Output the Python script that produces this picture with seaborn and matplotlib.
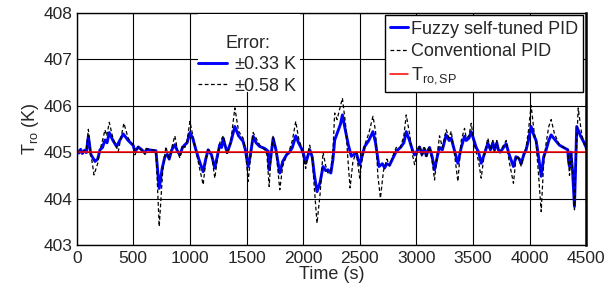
import numpy as np
import pandas as pd
import matplotlib
matplotlib.use("Agg")
import matplotlib.pyplot as plt
from matplotlib.patches import Rectangle
import seaborn as sns

# ---------- data ----------
fuzzy_time = [0, 20, 35, 50, 70, 85, 103, 125, 162, 185, 206, 228, 250, 268, 288, 320, 353, 380, 412, 455,
              500, 514, 530, 544, 575, 603, 617, 660, 700, 729, 755, 779, 800, 817, 840, 867, 890, 911, 935,
              956, 975, 1000, 1025, 1053, 1085, 1117, 1140, 1161, 1191, 1220, 1245, 1264, 1280, 1294, 1310,
              1329, 1360, 1397, 1430, 1470, 1490, 1514, 1535, 1559, 1585, 1617, 1660, 1691, 1700, 1715, 1735,
              1760, 1794, 1820, 1853, 1880, 1905, 1935, 1960, 1985, 2005, 2023, 2040, 2058, 2080, 2100, 2123,
              2150, 2176, 2200, 2220, 2245, 2264, 2279, 2308, 2330, 2347, 2375, 2400, 2411, 2426, 2450, 2470,
              2500, 2525, 2544, 2580, 2617, 2640, 2670, 2700, 2720, 2740, 2764, 2790, 2823, 2860, 2890, 2911,
              2940, 2965, 2985, 3000, 3029, 3050, 3070, 3088, 3105, 3117, 3140, 3161, 3185, 3205, 3230, 3264,
              3290, 3308, 3335, 3367, 3397, 3426, 3441, 3465, 3485, 3510, 3529, 3550, 3573, 3600, 3632, 3655,
              3676, 3690, 3711, 3725, 3741, 3770, 3794, 3820, 3858, 3880, 3897, 3910, 3926, 3950, 3970, 3990,
              4014, 4040, 4058, 4080, 4103, 4125, 4147, 4170, 4191, 4230, 4264, 4300, 4338, 4345, 4353, 4365,
              4380, 4397, 4408, 4417, 4450, 4485, 4500]
fuzzy_temp = [405.05, 404.98, 405.06, 404.97, 405.04, 404.99, 405.34, 404.95, 404.80, 404.85, 405.05, 405.10,
              405.26, 405.20, 405.42, 405.25, 405.12, 405.25, 405.39, 405.25, 405.14, 405.01, 405.06, 405.11,
              405.05, 404.98, 405.06, 405.04, 405.03, 404.22, 404.65, 404.90, 404.95, 404.85, 405.05, 405.16,
              405.02, 404.94, 405.10, 405.16, 405.20, 405.42, 405.30, 405.05, 404.80, 404.58, 404.85, 405.05,
              404.94, 404.66, 404.95, 405.16, 405.10, 405.30, 405.15, 404.99, 405.20, 405.55, 405.35, 405.23,
              405.05, 404.69, 404.95, 405.34, 405.20, 405.12, 405.08, 405.02, 404.62, 404.90, 405.30, 405.05,
              404.55, 404.80, 404.94, 405.00, 405.10, 405.35, 405.20, 405.08, 404.95, 404.76, 404.90, 405.05,
              404.90, 404.50, 404.15, 404.35, 404.69, 404.60, 404.62, 404.55, 404.85, 405.26, 405.45, 405.60,
              405.80, 405.45, 405.15, 405.05, 404.91, 404.95, 404.98, 404.73, 404.95, 405.12, 405.25, 405.44,
              405.20, 404.69, 404.75, 404.66, 404.75, 404.72, 404.85, 405.02, 405.10, 405.20, 405.44, 405.25,
              405.05, 404.94, 405.00, 405.11, 404.95, 405.08, 404.92, 405.05, 405.10, 404.90, 404.62, 404.90,
              405.10, 405.05, 405.37, 405.25, 405.30, 405.05, 404.76, 405.10, 405.34, 405.25, 405.30, 405.44,
              405.25, 405.10, 405.00, 404.76, 404.95, 405.19, 405.05, 405.20, 405.05, 405.20, 405.05, 405.00,
              405.10, 405.18, 404.95, 404.69, 404.90, 404.88, 404.85, 404.75, 404.95, 405.05, 405.25, 405.55,
              405.35, 405.25, 404.90, 404.48, 404.90, 405.05, 405.25, 405.37, 405.25, 405.15, 405.10, 405.05,
              404.80, 404.69, 405.00, 404.60, 403.83, 404.80, 405.55, 405.35, 405.19, 405.10]

conv_time = [0, 30, 60, 85, 103, 120, 153, 185, 206, 228, 250, 265, 288, 320, 367, 390, 417, 455, 500, 514,
             544, 603, 617, 700, 729, 760, 788, 817, 840, 867, 890, 911, 935, 956, 975, 1000, 1030, 1060, 1090,
             1117, 1140, 1161, 1191, 1220, 1245, 1264, 1294, 1310, 1329, 1360, 1397, 1430, 1470, 1490, 1514,
             1535, 1559, 1585, 1617, 1660, 1680, 1700, 1715, 1735, 1760, 1794, 1820, 1853, 1880, 1905, 1935,
             1960, 1985, 2005, 2023, 2040, 2058, 2080, 2100, 2123, 2150, 2176, 2200, 2220, 2245, 2264, 2279,
             2300, 2320, 2347, 2375, 2400, 2415, 2440, 2470, 2500, 2525, 2544, 2580, 2617, 2640, 2660, 2683,
             2710, 2740, 2764, 2790, 2823, 2860, 2890, 2911, 2940, 2965, 2985, 3010, 3029, 3050, 3070, 3088,
             3117, 3140, 3161, 3185, 3205, 3230, 3264, 3290, 3308, 3335, 3367, 3397, 3426, 3441, 3465, 3485,
             3510, 3529, 3550, 3573, 3600, 3632, 3655, 3676, 3690, 3711, 3725, 3741, 3770, 3794, 3820, 3858,
             3880, 3897, 3926, 3950, 3970, 3990, 4014, 4040, 4058, 4080, 4103, 4125, 4147, 4170, 4191, 4220,
             4264, 4300, 4338, 4353, 4370, 4385, 4397, 4410, 4430, 4460, 4485, 4500]
conv_temp = [405.05, 404.98, 405.02, 405.05, 405.49, 405.05, 404.51, 404.75, 405.05, 405.25, 405.48, 405.35,
             405.64, 405.30, 405.01, 405.30, 405.62, 405.30, 405.15, 404.94, 405.12, 404.95, 405.08, 405.03,
             403.40, 404.60, 405.12, 404.83, 405.10, 405.35, 405.05, 404.87, 405.15, 405.10, 405.25, 405.66,
             405.30, 404.95, 404.60, 404.30, 404.80, 405.08, 404.95, 404.44, 404.90, 405.20, 405.35, 405.20,
             404.95, 405.20, 405.95, 405.45, 405.30, 405.05, 404.37, 404.85, 405.42, 405.30, 405.15, 405.05,
             404.95, 404.26, 404.85, 405.35, 405.05, 404.19, 404.70, 404.92, 405.05, 405.25, 405.66, 405.30,
             405.10, 404.85, 404.65, 404.95, 405.15, 404.90, 404.20, 403.47, 404.10, 405.00, 404.70, 404.55,
             404.60, 405.05, 405.84, 405.70, 405.90, 406.16, 405.60, 404.70, 404.23, 404.80, 405.00, 404.44,
             404.90, 405.15, 405.40, 405.77, 405.45, 404.50, 404.01, 404.60, 404.85, 404.70, 404.90, 405.10,
             405.10, 405.35, 405.80, 405.40, 404.95, 404.73, 405.00, 405.15, 404.90, 405.10, 404.88, 405.12,
             404.80, 404.40, 404.95, 405.35, 405.10, 405.48, 405.30, 405.45, 405.00, 404.37, 405.25, 405.51,
             405.30, 405.35, 405.62, 405.20, 405.00, 404.80, 404.44, 404.95, 405.30, 405.05, 405.25, 405.00,
             405.25, 405.00, 405.00, 405.15, 405.25, 404.80, 404.33, 404.85, 404.92, 404.70, 404.95, 405.10,
             405.45, 406.00, 405.45, 405.20, 404.50, 403.72, 404.75, 405.20, 405.55, 405.70, 405.40, 405.15,
             405.10, 405.05, 404.50, 405.00, 404.50, 403.76, 404.80, 405.95, 405.40, 405.15, 405.05]

sp_time = [0, 4500]
sp_temp = [405, 405]

legend_labels = ["Fuzzy self-tuned PID", "Conventional PID", r"T$_{\mathregular{ro,SP}}$"]
error_labels = [r"$\pm$0.33 K", r"$\pm$0.58 K"]

# ---------- style ----------
sns.set_style("white")
plt.rcParams["font.family"] = ["Liberation Sans", "DejaVu Sans"]
plt.rcParams["mathtext.fontset"] = "custom"
plt.rcParams["mathtext.rm"] = "Liberation Sans"
plt.rcParams["mathtext.it"] = "Liberation Sans"
plt.rcParams["font.size"] = 13

fig = plt.figure(figsize=(6.16, 2.87), dpi=100)
ax = fig.add_axes([0.1245, 0.146, 0.827, 0.81])

sns.lineplot(x=fuzzy_time, y=fuzzy_temp, ax=ax, color="blue", lw=2.1, sort=False)
sns.lineplot(x=conv_time, y=conv_temp, ax=ax, color="black", lw=0.9, sort=False)
ax.lines[-1].set_linestyle((0, (3, 2)))
sns.lineplot(x=sp_time, y=sp_temp, ax=ax, color="red", lw=1.1, sort=False)

ax.set_xlim(0, 4500)
ax.set_ylim(403, 408)
ax.set_xticks(np.arange(0, 4501, 500))
ax.set_yticks(np.arange(403, 409, 1))
ax.grid(True, color="black", lw=0.8)
ax.tick_params(direction="in", length=3, labelsize=12.5, pad=3)
ax.tick_params(axis="x", pad=4)
for s in ax.spines.values():
    s.set_color("black")
    s.set_linewidth(1.0)
ax.spines["right"].set_linewidth(1.8)

ax.set_xlabel("Time (s)", fontsize=13, labelpad=0)
ax.set_ylabel(r"T$_{\mathregular{ro}}$ (K)", fontsize=13, labelpad=2)

lines = ax.lines[:3]
leg1 = ax.legend(lines, legend_labels, loc="upper right", fontsize=13, frameon=True, fancybox=False,
                 edgecolor="black", framealpha=1, borderaxespad=0.15, handlelength=1.0,
                 handletextpad=0.15, labelspacing=0.3, borderpad=0.3)
leg1.get_frame().set_linewidth(1.0)
ax.add_artist(leg1)

# white patch behind the "Error:" legend
ax.add_patch(Rectangle((0.238, 0.659), 0.2, 0.336, transform=ax.transAxes,
                       facecolor="white", edgecolor="none", zorder=4))
leg2 = ax.legend(lines[:2], error_labels, title="Error:", title_fontsize=13, fontsize=13,
                 loc="upper left", bbox_to_anchor=(0.238, 0.905), frameon=False,
                 handlelength=1.6, handletextpad=0.4, labelspacing=0.25, borderpad=0.0,
                 borderaxespad=0.0)
leg2.set_zorder(5)

plt.savefig("out.png", dpi=100)
